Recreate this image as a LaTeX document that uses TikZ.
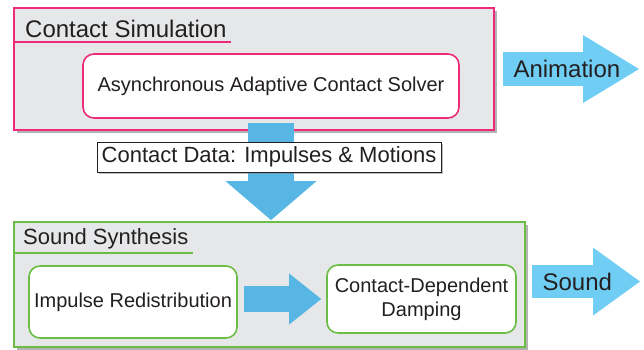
\documentclass[tikz,border=0pt]{standalone}
\usepackage{fontspec}
\setmainfont{Liberation Sans}
\usetikzlibrary{arrows.meta,shadows}
\definecolor{simpink}{RGB}{237,43,122}
\definecolor{synthgreen}{RGB}{106,189,69}
\definecolor{panelgray}{RGB}{230,231,232}
\definecolor{darkflow}{RGB}{88,182,229}
\definecolor{lightflow}{RGB}{112,206,244}
\definecolor{ink}{RGB}{35,31,32}
\begin{document}
\begin{tikzpicture}[x=1pt, y=-1pt,
    panel/.style={rectangle, draw, line width=1.8pt, fill=panelgray,
        drop shadow={shadow xshift=3pt, shadow yshift=-3pt, fill=black!50, opacity=0.6}},
    stage/.style={rectangle, rounded corners=11pt, draw, line width=1.6pt, fill=white,
        text=ink, align=center, font=\fontsize{20}{24}\selectfont},
    paneltitle/.style={anchor=south west, inner sep=4pt, text=ink},
    flow/.style={line width=#1}
]
    \useasboundingbox (0,0) rectangle (644,349);

    % contact simulation
    \node[panel, draw=simpink, minimum width=480pt, minimum height=122pt] (sim) at (254,69) {};
    \node[paneltitle, text depth=0pt, font=\fontsize{24}{28}\selectfont] (simtitle) at (21,42) {Contact Simulation};
    \draw[simpink, line width=1.8pt] (sim.west |- simtitle.south) -- (simtitle.south east);
    \node[stage, draw=simpink, minimum width=376pt, minimum height=64pt] (solver) at (271,86) {Asynchronous Adaptive Contact Solver};

    % sound synthesis
    \node[panel, draw=synthgreen, minimum width=511pt, minimum height=125pt] (synth) at (269.5,284.5) {};
    \node[paneltitle, font=\fontsize{22}{26}\selectfont] (synthtitle) at (19,253) {Sound Synthesis};
    \draw[synthgreen, line width=1.8pt] (synth.west |- synthtitle.south) -- (synthtitle.south east);
    \node[stage, draw=synthgreen, minimum width=208pt, minimum height=72pt] (redist) at (133,302) {Impulse Redistribution};
    \node[stage, draw=synthgreen, minimum width=189pt, minimum height=68pt] (damp) at (421.5,299) {Contact-Dependent\\Damping};

    \coordinate (animtip) at (639,69);
    \coordinate (soundtip) at (640,281.5);

    \draw[flow=34pt, lightflow, -{Triangle[length=56pt, width=68pt, line width=0pt]}]
        ([xshift=8pt]sim.east) -- (animtip) node[pos=0.47, text=ink, font=\fontsize{24}{28}\selectfont] {Animation};
    \draw[flow=46pt, darkflow, -{Triangle[length=39pt, width=91pt, line width=0pt]}]
        ([yshift=-4pt]solver.south) -- ([yshift=1pt]solver.south |- synth.north);
    \draw[flow=26pt, darkflow, -{Triangle[length=32pt, width=51pt, line width=0pt]}]
        ([xshift=6pt]redist.east |- damp.west) -- ([xshift=-5pt]damp.west);
    \draw[flow=33pt, lightflow, -{Triangle[length=47pt, width=68pt, line width=0pt]}]
        ([xshift=6pt, yshift=3pt]synth.east) -- (soundtip) node[pos=0.42, text=ink, font=\fontsize{24}{28}\selectfont] {Sound};

    \node[draw=ink, line width=0.6pt, fill=white, text=ink, minimum width=344pt, minimum height=30pt, inner sep=2pt,
        drop shadow={shadow xshift=2pt, shadow yshift=-2pt, fill=black!50, opacity=0.5},
        font=\fontsize{22}{26}\selectfont] (data) at (269,157) {Contact Data: Impulses \& Motions};
\end{tikzpicture}
\end{document}
